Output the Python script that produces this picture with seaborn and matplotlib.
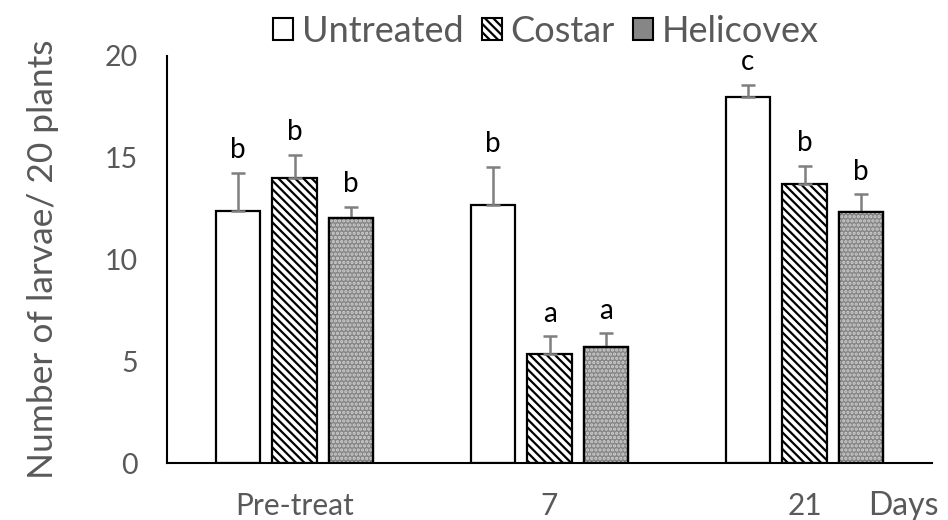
import numpy as np
import pandas as pd
import seaborn as sns
import matplotlib
matplotlib.use("Agg")
import matplotlib.pyplot as plt
from matplotlib.patches import Rectangle, Patch

# ---- data ----
days = ["Pre-treat", "7", "21"]
treatments = ["Untreated", "Costar", "Helicovex"]
untreated = [12.4, 12.7, 18.0]
costar = [14.0, 5.35, 13.7]
helicovex = [12.05, 5.7, 12.35]
untreated_err = [1.85, 1.85, 0.57]
costar_err = [1.15, 0.88, 0.9]
helicovex_err = [0.55, 0.67, 0.86]
untreated_letters = ["b", "b", "c"]
costar_letters = ["b", "a", "b"]
helicovex_letters = ["b", "a", "b"]

values = {"Untreated": untreated, "Costar": costar, "Helicovex": helicovex}
errors = {"Untreated": untreated_err, "Costar": costar_err, "Helicovex": helicovex_err}
letters = {"Untreated": untreated_letters, "Costar": costar_letters, "Helicovex": helicovex_letters}

rows = []
for t in treatments:
    for d, v in zip(days, values[t]):
        rows.append({"day": d, "treatment": t, "value": v})
df = pd.DataFrame(rows)

sns.set_theme(style="white")
plt.rcParams["font.family"] = ["Lato", "DejaVu Sans"]
plt.rcParams["hatch.linewidth"] = 1.6

TXT = "#595959"
GRAY = "#868686"
HATCH = "\\\\\\\\"

fig = plt.figure(figsize=(9.48, 5.2), dpi=100)
ax = fig.add_axes([167 / 948, 1 - 463 / 520, (932 - 167) / 948, (463 - 56) / 520])

sns.barplot(data=df, x="day", y="value", hue="treatment", order=days,
            hue_order=treatments, width=0.665, gap=0.21, errorbar=None,
            palette={"Untreated": "white", "Costar": "white", "Helicovex": GRAY},
            edgecolor="black", linewidth=1.6, saturation=1, legend=False, ax=ax)

for t, cont in zip(treatments, ax.containers):
    xs, tops = [], []
    for bar in cont:
        x = bar.get_x() + bar.get_width() / 2
        xs.append(x)
        tops.append(bar.get_height())
        if t == "Costar":
            bar.set_hatch(HATCH)
        if t == "Helicovex":
            ov = Rectangle((bar.get_x(), bar.get_y()), bar.get_width(), bar.get_height(),
                           facecolor="none", edgecolor="#d0d0d0", hatch="....",
                           linewidth=0, zorder=bar.get_zorder() + 0.1)
            ax.add_patch(ov)
            outline = Rectangle((bar.get_x(), bar.get_y()), bar.get_width(), bar.get_height(),
                                facecolor="none", edgecolor="black", linewidth=1.6,
                                zorder=bar.get_zorder() + 0.2)
            ax.add_patch(outline)
    errs = errors[t]
    ax.errorbar(xs, tops, yerr=[np.zeros(len(errs)), errs], fmt="none",
                ecolor="#7f7f7f", elinewidth=1.8, capsize=5, capthick=1.8, zorder=1)
    for x, top, e, lab in zip(xs, tops, errs, letters[t]):
        ax.text(x, top + e + 0.72, lab, ha="center", va="baseline",
                fontsize=20, color="black")

ax.set_ylim(0, 20)
ax.set_xlim(-0.5, 2.5)
ax.set_yticks([0, 5, 10, 15, 20])
ax.tick_params(axis="both", length=0, colors=TXT)
ax.tick_params(axis="y", labelsize=20.5, pad=21)
ax.tick_params(axis="x", labelsize=21.5, pad=21)
ax.set_xlabel("")
ax.set_ylabel("Number of larvae/ 20 plants", fontsize=25.5, color=TXT, labelpad=33)
for s in ["top", "right"]:
    ax.spines[s].set_visible(False)
for s in ["left", "bottom"]:
    ax.spines[s].set_color("black")
    ax.spines[s].set_linewidth(1.5)

fig.text(903 / 948, 1 - 515 / 520, "Days", ha="center", va="baseline",
         fontsize=23, color=TXT)

handles = [
    Patch(facecolor="white", edgecolor="black", linewidth=1.5),
    Patch(facecolor="white", edgecolor="black", linewidth=1.5, hatch=HATCH),
    Patch(facecolor=GRAY, edgecolor="black", linewidth=1.5),
]
leg = fig.legend(handles, treatments, ncol=3, frameon=False, loc="center",
                 bbox_to_anchor=(546 / 948, 1 - 31 / 520), fontsize=26,
                 handlelength=0.55, handleheight=0.55, handletextpad=0.25,
                 columnspacing=0.5, borderaxespad=0)
for txt in leg.get_texts():
    txt.set_color(TXT)

fig.savefig("out.png", dpi=100)
